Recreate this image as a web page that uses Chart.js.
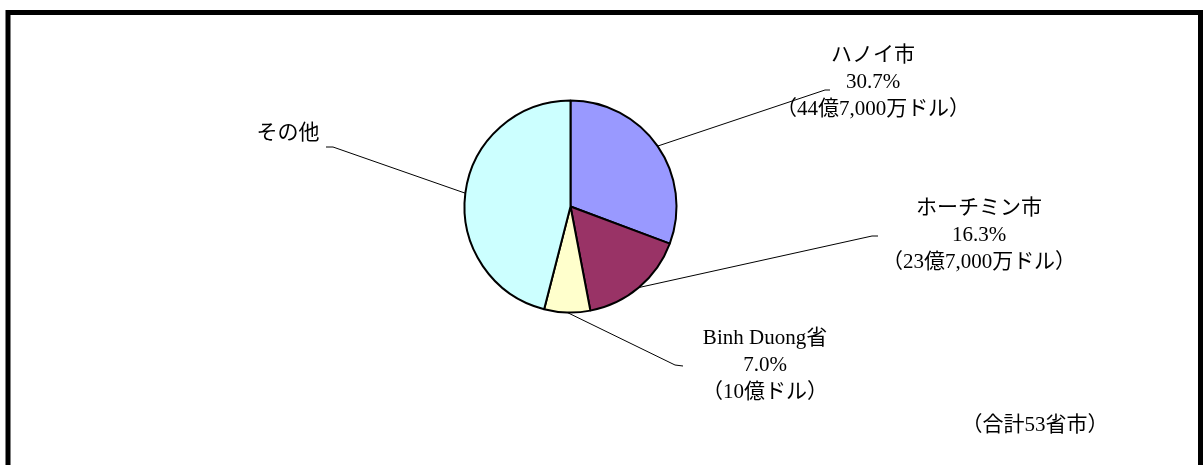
<!DOCTYPE html>
<html>
<head>
<meta charset="utf-8">
<script src="https://cdn.jsdelivr.net/npm/chart.js@4.4.0/dist/chart.umd.min.js"></script>
<style>
  html, body { margin: 0; padding: 0; background: #ffffff; }
  #wrap { width: 1203px; height: 465px; position: relative; }
</style>
</head>
<body>
<div id="wrap"><canvas id="c" width="1203" height="465"></canvas></div>
<script>
// ---- data ----
const categories = ['ハノイ市', 'ホーチミン市', 'Binh Duong省', 'その他'];
const shares = [30.7, 16.3, 7.0, 46.0];
const amounts = ['（44億7,000万ドル）', '（23億7,000万ドル）', '（10億ドル）', ''];
const sliceColors = ['#9999FF', '#993366', '#FFFFCC', '#CCFFFF'];
const noteText = '（合計53省市）';

// ---- label layout (annotation placement, px) ----
const labelLayout = [
  { x: 873, y: 55, elbow: [825, 90], end: [830, 90] },
  { x: 979, y: 208, elbow: [872, 236], end: [878, 236] },
  { x: 765, y: 338, elbow: [675, 365], end: [683, 366] },
  { x: 288, y: 133, elbow: [333, 147], end: [326, 147], single: true }
];
const lineGap = 27;
const FONT = '21px "Liberation Serif", "Noto Sans CJK JP", serif';

const framePlugin = {
  id: 'frame',
  beforeDraw(chart) {
    const ctx = chart.ctx;
    ctx.save();
    ctx.fillStyle = '#ffffff';
    ctx.fillRect(0, 0, chart.width, chart.height);
    ctx.strokeStyle = '#000000';
    ctx.lineWidth = 5;
    ctx.strokeRect(8, 12.5, 1192.5, 520);
    ctx.restore();
  }
};

const labelPlugin = {
  id: 'labels',
  afterDraw(chart) {
    const ctx = chart.ctx;
    const meta = chart.getDatasetMeta(0);
    ctx.save();
    ctx.font = FONT;
    ctx.fillStyle = '#000000';
    ctx.textAlign = 'center';
    ctx.textBaseline = 'middle';
    meta.data.forEach((arc, i) => {
      const L = labelLayout[i];
      const p = arc.getProps(['x', 'y', 'startAngle', 'endAngle', 'outerRadius'], true);
      const mid = (p.startAngle + p.endAngle) / 2;
      const sx = p.x + Math.cos(mid) * p.outerRadius;
      const sy = p.y + Math.sin(mid) * p.outerRadius;
      ctx.strokeStyle = '#000000';
      ctx.lineWidth = 1;
      ctx.beginPath();
      ctx.moveTo(sx, sy);
      ctx.lineTo(L.elbow[0], L.elbow[1]);
      ctx.lineTo(L.end[0], L.end[1]);
      ctx.stroke();
      if (L.single) {
        ctx.fillText(categories[i], L.x, L.y);
      } else {
        ctx.fillText(categories[i], L.x, L.y);
        ctx.fillText(shares[i].toFixed(1) + '%', L.x, L.y + lineGap);
        ctx.fillText(amounts[i], L.x, L.y + lineGap * 2);
      }
    });
    ctx.fillText(noteText, 1035, 425);
    ctx.restore();
  }
};

new Chart(document.getElementById('c'), {
  type: 'pie',
  data: {
    labels: categories,
    datasets: [{
      data: shares,
      backgroundColor: sliceColors,
      borderColor: '#000000',
      borderWidth: 2
    }]
  },
  options: {
    responsive: false,
    animation: false,
    radius: 106,
    layout: { padding: { left: 0, right: 62, top: 0, bottom: 52 } },
    plugins: {
      legend: { display: false },
      tooltip: { enabled: false }
    }
  },
  plugins: [framePlugin, labelPlugin]
});
</script>
</body>
</html>
